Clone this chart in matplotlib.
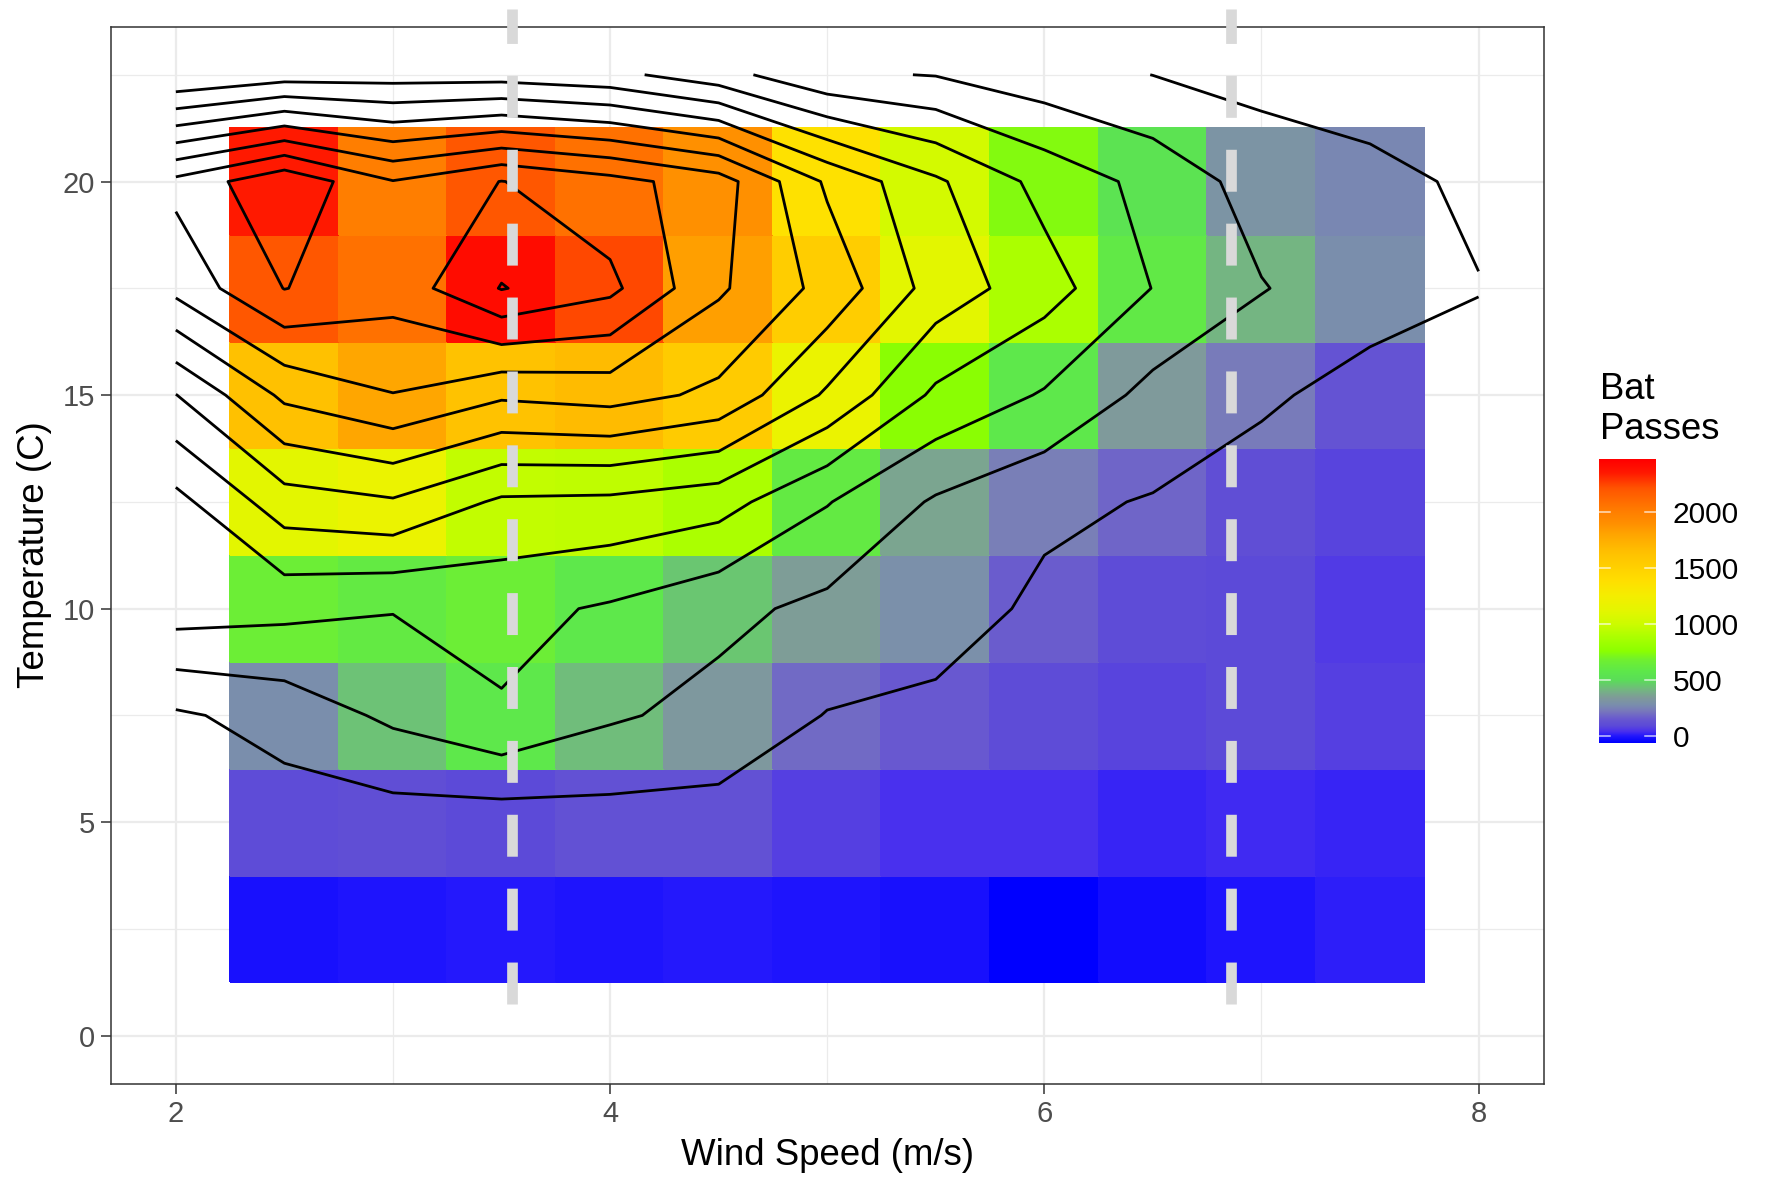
import numpy as np
import matplotlib
matplotlib.use("Agg")
import matplotlib.pyplot as plt
from matplotlib.colors import LinearSegmentedColormap, Normalize

plt.rcParams['font.family'] = ['Liberation Sans', 'DejaVu Sans']
plt.rcParams['lines.scale_dashes'] = False

# grid of wind speed (m/s) and temperature (C)
wind = [2.0, 2.5, 3.0, 3.5, 4.0, 4.5, 5.0, 5.5, 6.0, 6.5, 7.0, 7.5, 8.0]
temp = [0.0, 2.5, 5.0, 7.5, 10.0, 12.5, 15.0, 17.5, 20.0, 22.5]

# bat passes per temperature row, one value per wind speed
passes_t00 = [40, 10, 15, 10, 15, 20, 15, 0, -20, -10, 0, 10, 10]
passes_t025 = [60, -20, -10, 0, -10, 0, -5, -15, -55, -30, -5, 10, 15]
passes_t05 = [120, 105, 109, 95, 120, 125, 70, 40, 40, 25, 30, 20, 15]
passes_t075 = [171, 277, 440, 580, 427, 336, 192, 151, 100, 85, 90, 75, 60]
passes_t10 = [703, 656, 609, 659, 576, 453, 351, 296, 159, 100, 90, 60, 50]
passes_t125 = [738, 1110, 1178, 968, 953, 882, 611, 375, 241, 187, 109, 80, 60]
passes_t15 = [1195, 1643, 1794, 1632, 1680, 1555, 1170, 760, 581, 340, 230, 130, 120]
passes_t175 = [1860, 2205, 2077, 2410, 2248, 1830, 1536, 1117, 883, 595, 410, 285, 207]
passes_t20 = [2055, 2357, 2009, 2205, 2070, 1895, 1368, 1032, 735, 537, 316, 260, 163]
passes_t225 = [800, 903, 912, 912, 856, 680, 430, 392, 280, 198, 140, 90, 60]

# wind speeds marked with dashed lines
cut_in = [3.55, 6.86]

contour_levels = [200, 400, 600, 800, 1000, 1200, 1400, 1600, 1800, 2000, 2200, 2400]
fill_limits = (-60, 2476)
legend_breaks = [0, 500, 1000, 1500, 2000]

# colour ramp for the fill (value, colour)
ramp = [(-60, '#0000ff'), (0, '#2418fc'), (40, '#4a30ee'), (90, '#5c4ad8'),
        (150, '#6858d0'), (220, '#7878bc'), (280, '#7a8fac'), (340, '#7f9a9a'),
        (420, '#72ba7e'), (500, '#5ade58'), (580, '#5ee84a'), (680, '#70f030'),
        (760, '#8cff00'), (880, '#aaff00'), (1000, '#ccfc00'), (1120, '#e4f600'),
        (1250, '#f4ee00'), (1380, '#ffe000'), (1550, '#ffcc00'), (1650, '#ffc000'),
        (1800, '#ffa600'), (1900, '#ff9000'), (2000, '#ff8000'), (2075, '#ff7200'),
        (2220, '#ff5400'), (2360, '#ff1800'), (2476, '#ff0000')]

lo, hi = fill_limits
cmap = LinearSegmentedColormap.from_list(
    'batpass', [((v - lo) / (hi - lo), c) for v, c in ramp])
norm = Normalize(vmin=lo, vmax=hi)

x = np.array(wind)
y = np.array(temp)
z = np.array([passes_t00, passes_t025, passes_t05, passes_t075, passes_t10,
              passes_t125, passes_t15, passes_t175, passes_t20, passes_t225], dtype=float)

# tiles only cover the inner part of the grid
xt = x[1:-1]
yt = y[1:-1]
zt = z[1:-1, 1:-1]
x_edges = np.append(xt - 0.25, xt[-1] + 0.25)
y_edges = np.append(yt - 1.25, yt[-1] + 1.25)

W, H = 1767, 1177
fig = plt.figure(figsize=(W / 100, H / 100), dpi=100)
ax = fig.add_axes([110.7 / W, 1 - 1083.8 / H, 1433 / W, 1057.1 / H])

ax.pcolormesh(x_edges, y_edges, zt, cmap=cmap, norm=norm, shading='flat',
              edgecolors='face', linewidth=0.3, zorder=1)
ax.contour(x, y, z, levels=contour_levels, colors='black', linewidths=2.0, zorder=2)

for xc in cut_in:
    ax.plot([xc, xc], [0.75, 24.05], color='#d9d9d9', lw=7.7, dashes=(30.2, 23.0),
            dash_capstyle='butt', clip_on=False, zorder=3)

ax.set_xlim(1.7, 8.3)
ax.set_ylim(-1.125, 23.625)
ax.set_xticks([2, 4, 6, 8])
ax.set_xticks([3, 5, 7], minor=True)
ax.set_yticks([0, 5, 10, 15, 20])
ax.set_yticks([2.5, 7.5, 12.5, 17.5, 22.5], minor=True)
ax.grid(which='major', color='#ebebeb', lw=1.6, zorder=0)
ax.grid(which='minor', color='#ebebeb', lw=0.9, zorder=0)
ax.set_axisbelow(True)
ax.tick_params(which='major', length=7, width=1.1, color='#333333', pad=4.5,
               labelsize=21, labelcolor='#4d4d4d')
ax.tick_params(which='minor', length=0)
for s in ax.spines.values():
    s.set_color('#333333')
    s.set_linewidth(1.1)

fig.text(827 / W, 1 - 1165 / H, 'Wind Speed (m/s)', ha='center', va='baseline',
         fontsize=26.4, color='black')
fig.text(44 / W, 1 - 555 / H, 'Temperature (C)', ha='center', va='baseline',
         rotation=90, rotation_mode='anchor', fontsize=26.4, color='black')

# colour bar legend
cax = fig.add_axes([1599 / W, 1 - 743 / H, 57 / W, 284 / H])
grad = np.linspace(lo, hi, 512)[:, None]
cax.imshow(grad, aspect='auto', cmap=cmap, norm=norm, origin='lower',
           extent=[0, 1, lo, hi])
cax.set_xlim(0, 1)
cax.set_ylim(lo, hi)
for b in legend_breaks:
    cax.plot([0, 0.19], [b, b], color='white', lw=1.1, alpha=0.75)
    cax.plot([0.81, 1], [b, b], color='white', lw=1.1, alpha=0.75)
cax.set_xticks([])
cax.yaxis.tick_right()
cax.set_yticks(legend_breaks)
cax.set_yticklabels([str(b) for b in legend_breaks])
cax.tick_params(axis='y', length=0, pad=12, labelsize=21.5, labelcolor='black')
for s in cax.spines.values():
    s.set_visible(False)

fig.text(1600 / W, 1 - 399 / H, 'Bat', ha='left', va='baseline', fontsize=26.3)
fig.text(1600 / W, 1 - 439 / H, 'Passes', ha='left', va='baseline', fontsize=26.3)

fig.savefig('out.png', dpi=100, facecolor='white')
